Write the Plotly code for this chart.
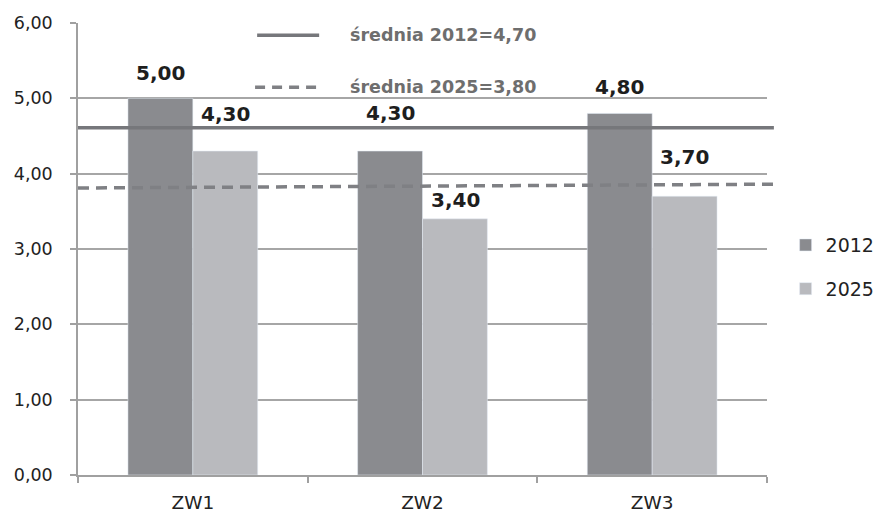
import plotly.graph_objects as go

categories = ["ZW1", "ZW2", "ZW3"]
values_2012 = [5.00, 4.30, 4.80]
values_2025 = [4.30, 3.40, 3.70]

# average lines as they sit in the picture (left end, right end)
avg_2012_line = [4.61, 4.61]
avg_2025_line = [3.81, 3.86]
avg_labels = ["średnia 2012=4,70", "średnia 2025=3,80"]

y_ticks = [0, 1, 2, 3, 4, 5, 6]

DARK = "#8a8b8f"
LIGHT = "#b9babe"
FONT = "DejaVu Sans"


def pl(v):
    return f"{v:.2f}".replace(".", ",")


fig = go.Figure()
fig.add_trace(go.Bar(x=categories, y=values_2012, name="2012",
                     marker_color=DARK, legendgroup="a"))
fig.add_trace(go.Bar(x=categories, y=values_2025, name="2025",
                     marker_color=LIGHT, legendgroup="b"))

# value labels, nudged like in the original
shift_2012 = [25, 38, 26]
shift_2025 = [37, 19, 39]
for i, c in enumerate(categories):
    for vals, shifts, dx in ((values_2012, shift_2012, -32.5),
                             (values_2025, shift_2025, 32.5)):
        fig.add_annotation(x=c, y=vals[i], text=f"<b>{pl(vals[i])}</b>", showarrow=False,
                           xshift=dx, yshift=shifts[i], yanchor="middle",
                           font=dict(family=FONT, size=20, color="#1e1e1e"))

# average lines across the plot
fig.add_shape(type="line", xref="paper", yref="y", x0=0, x1=1.01,
              y0=avg_2012_line[0], y1=avg_2012_line[1],
              line=dict(color="#76777b", width=3.5))
fig.add_shape(type="line", xref="paper", yref="y", x0=0, x1=1.01,
              y0=avg_2025_line[0], y1=avg_2025_line[1],
              line=dict(color="#7f8084", width=3.5, dash="11px,7px"))

# little key for the average lines
fig.add_shape(type="line", xref="paper", yref="paper", x0=0.260, x1=0.350,
              y0=0.973, y1=0.973, line=dict(color="#76777b", width=3.5))
fig.add_shape(type="line", xref="paper", yref="paper", x0=0.257, x1=0.348,
              y0=0.858, y1=0.858, line=dict(color="#7f8084", width=3.5, dash="10px,7px"))
for txt, yy in zip(avg_labels, (0.973, 0.858)):
    fig.add_annotation(xref="paper", yref="paper", x=0.392, y=yy, text=f"<b>{txt}</b>",
                       showarrow=False, xanchor="left", yanchor="middle",
                       font=dict(family=FONT, size=17.5, color="#6e6e6e"))

fig.update_layout(
    width=876, height=518,
    margin=dict(l=78, r=109, t=23, b=43, autoexpand=False),
    paper_bgcolor="white", plot_bgcolor="white",
    barmode="group", bargap=0.435, bargroupgap=0,
    separators=", ",
    font=dict(family=FONT, size=17, color="#222222"),
    legend=dict(x=1.027, y=0.46, xanchor="left", yanchor="middle",
                font=dict(family=FONT, size=19, color="#222222"),
                traceorder="grouped", tracegroupgap=16, itemwidth=30),
)
fig.update_xaxes(showline=True, linecolor="#a0a0a0", linewidth=1.5,
                 ticks="outside", tickson="boundaries", ticklen=6,
                 tickcolor="#a0a0a0", tickwidth=1.5, showgrid=False,
                 ticklabelstandoff=10, automargin=False,
                 tickfont=dict(family=FONT, size=18.5, color="#222222"))
fig.update_yaxes(range=[0, 6], tickvals=y_ticks, tickformat=".2f",
                 showline=True, linecolor="#a0a0a0", linewidth=1.5,
                 ticks="outside", ticklen=6, tickcolor="#a0a0a0", tickwidth=1.5,
                 showgrid=True, gridcolor="#a6a6a6", gridwidth=1.5,
                 zeroline=False, ticklabelstandoff=14, automargin=False,
                 tickfont=dict(family=FONT, size=17.5, color="#222222"))

# page body has a default 8px margin; drop it so the figure fills the window
fig.write_html("out.html", config={"displayModeBar": False},
               post_script="document.body.style.margin='0';")
